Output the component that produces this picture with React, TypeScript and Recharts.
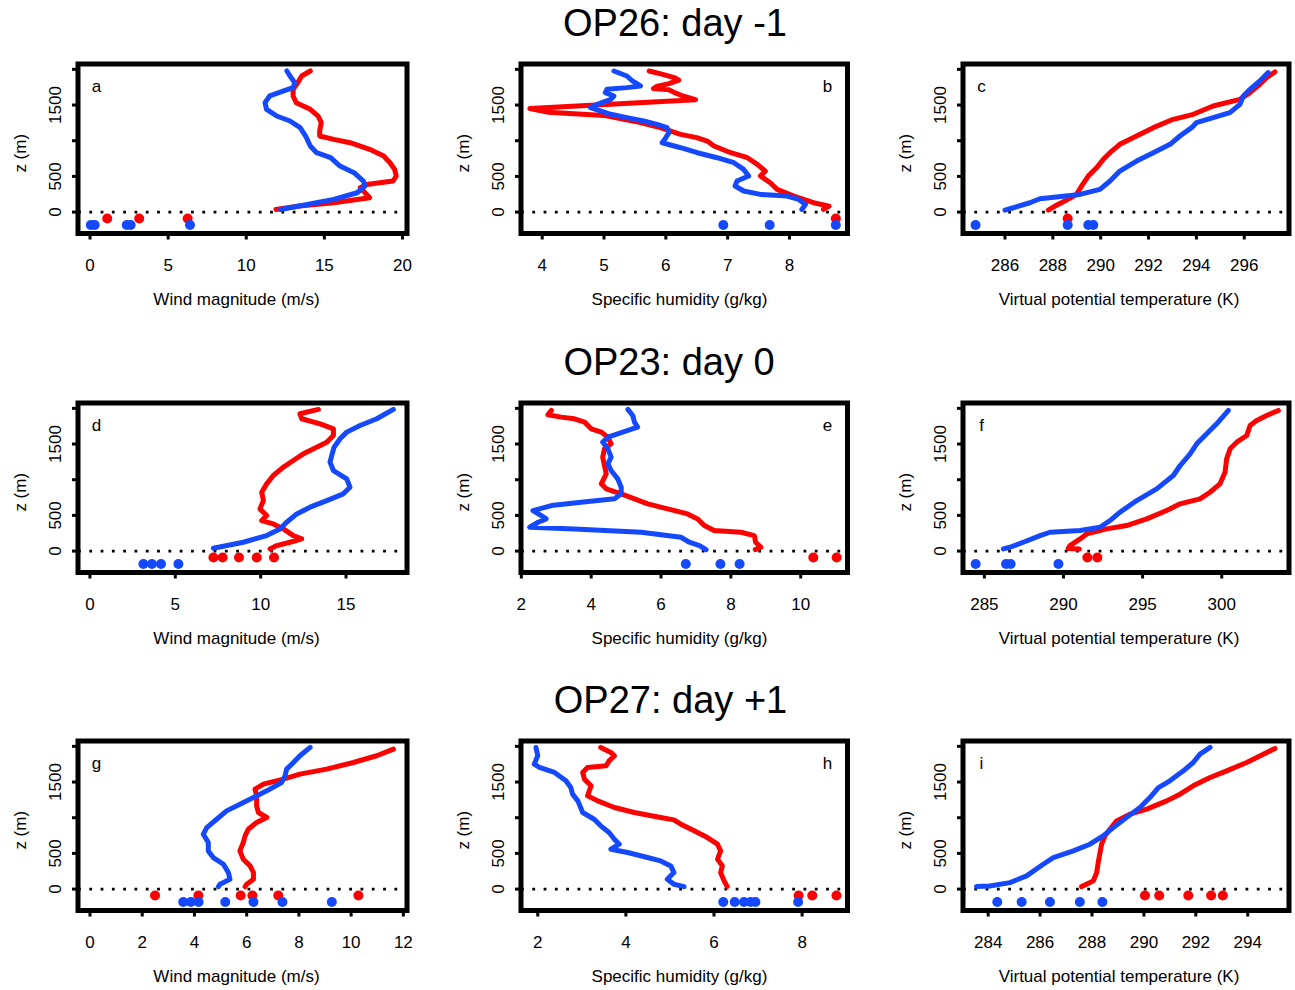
import React from 'react';
import { ScatterChart, Scatter, XAxis, YAxis, ReferenceLine, ReferenceArea } from 'recharts';

type Pair = [number, number]; // [z (m), x value]

const FONT = '"Liberation Sans", Arial, Helvetica, sans-serif';
const RED = '#ff0000';
const BLUE = '#1449ff';

const Z_DOMAIN: [number, number] = [-300, 2075];
const Z_TICKS = [0, 500, 1000, 1500, 2000];
const Z_TICK_LABELS = [0, 500, 1500];
const RED_DOT_Z = -90;
const BLUE_DOT_Z = -180;

const TITLES = ['OP26: day -1', 'OP23: day 0', 'OP27: day +1'];
const X_LABELS = ['Wind magnitude (m/s)', 'Specific humidity (g/kg)', 'Virtual potential temperature (K)'];
const Z_LABEL = 'z (m)';

// ---------- Panel a (wind, OP26) ----------
const aRed: Pair[] = [[1977,14.1],[1907,13.55],[1814,13.3],[1720,13.0],[1627,13.0],[1533,13.2],[1440,14.1],[1346,14.6],[1253,14.8],[1136,14.7],[1066,14.7],[1019,15.6],[972,16.65],[879,17.9],[785,18.8],[692,19.2],[598,19.5],[505,19.6],[435,19.4],[388,17.7],[341,17.3],[295,17.5],[201,17.9],[131,15.6],[84,13.4],[37,11.9]];
const aBlue: Pair[] = [[1977,12.6],[1907,12.8],[1814,13.1],[1744,13.0],[1697,12.4],[1627,11.5],[1533,11.2],[1440,11.3],[1346,11.95],[1276,12.8],[1183,13.45],[1066,13.8],[926,14.1],[832,14.5],[762,15.4],[645,16.0],[552,16.9],[435,17.5],[365,17.6],[271,17.1],[178,15.6],[107,13.9],[37,12.2]];
const aRedDots = [1.1, 3.15, 6.25];
const aBlueDots = [0.05, 0.3, 2.35, 2.6, 6.4];
const aDomain: [number, number] = [-0.77, 20.29];
const aTicks = [0, 5, 10, 15, 20];

// ---------- Panel b (humidity, OP26) ----------
const bRed: Pair[] = [[1977,5.73],[1930,5.95],[1880,6.15],[1850,6.21],[1800,6.05],[1760,5.85],[1730,5.8],[1715,6.05],[1670,6.15],[1620,6.3],[1575,6.48],[1450,3.8],[1400,4.1],[1355,5.0],[1300,5.32],[1253,5.59],[1183,5.91],[1089,6.24],[1043,6.5],[996,6.67],[926,6.78],[832,7.05],[762,7.32],[669,7.48],[575,7.61],[505,7.53],[411,7.69],[318,7.8],[224,8.07],[131,8.39],[84,8.64],[37,8.55]];
const bBlue: Pair[] = [[1977,5.16],[1907,5.37],[1837,5.46],[1767,5.59],[1744,5.37],[1720,5.05],[1674,5.02],[1627,5.16],[1580,5.11],[1510,4.89],[1463,4.78],[1417,4.94],[1370,5.11],[1323,5.37],[1276,5.64],[1230,5.86],[1183,6.02],[1113,6.05],[1043,6.0],[972,5.94],[902,6.24],[832,6.51],[762,6.83],[692,7.1],[598,7.26],[505,7.34],[435,7.15],[365,7.12],[295,7.26],[248,7.53],[224,7.96],[178,8.15],[107,8.26],[37,8.2]];
const bRedDots = [8.75];
const bBlueDots = [6.93, 7.68, 8.75];
const bDomain: [number, number] = [3.657, 8.939];
const bTicks = [4, 5, 6, 7, 8];

// ---------- Panel c (theta_v, OP26) ----------
const cRed: Pair[] = [[1963,297.28],[1884,296.93],[1791,296.65],[1674,296.24],[1580,295.82],[1487,294.7],[1370,293.87],[1300,293.03],[1183,292.2],[1066,291.5],[949,290.8],[832,290.39],[739,290.11],[622,289.83],[505,289.48],[365,289.2],[248,288.99],[154,288.5],[84,288.09],[28,287.81]];
const cBlue: Pair[] = [[1954,297.0],[1837,296.65],[1720,296.24],[1627,295.96],[1510,295.82],[1393,295.4],[1323,294.7],[1253,294.0],[1183,293.8],[1066,293.31],[949,292.9],[832,292.2],[715,291.5],[575,290.8],[435,290.39],[318,289.97],[248,289.13],[187,287.46],[131,287.04],[61,286.35],[28,286.0]];
const cRedDots = [288.62];
const cBlueDots = [284.77, 288.62, 289.48, 289.69];
const cDomain: [number, number] = [284.245, 297.87];
const cTicks = [286, 288, 290, 292, 294, 296];

// ---------- Panel d (wind, OP23) ----------
const dRed: Pair[] = [[1985,13.38],[1924,12.3],[1854,12.4],[1783,13.48],[1713,14.26],[1620,14.26],[1526,13.87],[1456,13.28],[1363,12.5],[1269,11.91],[1176,11.33],[1059,10.74],[942,10.35],[825,10.06],[708,10.16],[591,9.96],[498,10.35],[428,10.06],[381,10.74],[311,11.33],[217,11.91],[171,12.4],[124,11.72],[77,10.94],[30,10.55]];
const dBlue: Pair[] = [[1985,17.77],[1854,16.8],[1760,15.82],[1667,15.04],[1573,14.65],[1456,14.3],[1339,14.16],[1246,14.06],[1129,14.26],[1012,15.04],[895,15.23],[802,14.84],[708,13.87],[615,12.89],[521,12.11],[404,11.52],[311,11.13],[217,10.35],[124,8.98],[40,7.23]];
const dRedDots = [7.23, 7.77, 8.73, 9.77, 10.78];
const dBlueDots = [3.13, 3.63, 4.16, 5.18];
const dDomain: [number, number] = [-0.70, 18.57];
const dTicks = [0, 5, 10, 15];

// ---------- Panel e (humidity, OP23) ----------
const eRed: Pair[] = [[1971,2.86],[1910,2.76],[1877,3.14],[1854,3.52],[1807,3.81],[1713,4.0],[1667,4.29],[1596,4.48],[1503,4.57],[1433,4.38],[1316,4.33],[1199,4.38],[1082,4.43],[942,4.29],[872,4.43],[802,4.86],[732,5.24],[662,5.62],[591,6.19],[521,6.76],[451,7.05],[358,7.24],[288,7.52],[264,8.29],[217,8.67],[124,8.71],[54,8.86],[21,8.7]];
const eBlue: Pair[] = [[1985,5.05],[1900,5.19],[1807,5.24],[1737,5.33],[1690,5.05],[1596,4.48],[1526,4.33],[1433,4.48],[1316,4.57],[1222,4.48],[1129,4.57],[1012,4.76],[895,4.86],[802,4.86],[732,4.67],[685,3.71],[638,2.86],[568,2.33],[498,2.57],[451,2.71],[404,2.48],[334,2.24],[311,3.52],[264,5.43],[194,6.57],[124,6.81],[77,7.1],[21,7.29]];
const eRedDots = [10.36, 11.03];
const eBlueDots = [6.71, 7.7, 8.25];
const eDomain: [number, number] = [1.99, 11.34];
const eTicks = [2, 4, 6, 8, 10];

// ---------- Panel f (theta_v, OP23) ----------
const fRed: Pair[] = [[1971,303.58],[1900,302.84],[1830,302.21],[1760,301.79],[1620,301.58],[1526,300.95],[1433,300.53],[1293,300.31],[1106,300.21],[942,299.89],[825,299.26],[732,298.63],[662,297.37],[568,296.52],[451,295.26],[358,293.99],[311,292.73],[241,291.47],[171,291.05],[77,290.41],[35,290.3],[28,291.0]];
const fBlue: Pair[] = [[1971,300.42],[1783,299.68],[1643,299.05],[1503,298.42],[1363,298.0],[1199,297.37],[1059,296.94],[872,295.89],[708,294.63],[545,293.57],[428,292.94],[334,292.31],[288,291.05],[264,289.15],[217,288.52],[124,287.46],[54,286.62],[30,286.2]];
const fRedDots = [291.51, 292.14];
const fBlueDots = [284.45, 286.37, 286.66, 289.68];
const fDomain: [number, number] = [283.65, 304.25];
const fTicks = [285, 290, 295, 300];

// ---------- Panel g (wind, OP27) ----------
const gRed: Pair[] = [[1961,11.62],[1868,10.98],[1774,10.09],[1681,9.06],[1611,8.04],[1540,7.4],[1470,6.64],[1400,6.32],[1307,6.38],[1166,6.38],[1073,6.45],[1003,6.77],[933,6.38],[839,6.06],[746,5.94],[652,5.87],[535,5.74],[418,5.87],[325,6.13],[231,6.26],[138,6.26],[68,6.0],[35,5.94]];
const gBlue: Pair[] = [[1985,8.43],[1868,8.04],[1774,7.79],[1681,7.53],[1587,7.47],[1494,7.34],[1377,6.77],[1283,6.26],[1190,5.74],[1096,5.23],[979,4.85],[862,4.47],[769,4.34],[652,4.53],[535,4.53],[442,4.72],[348,5.11],[231,5.3],[138,5.36],[68,4.98],[35,4.92]];
const gRedDots = [2.49, 4.15, 5.77, 6.22, 7.21, 10.28];
const gBlueDots = [3.57, 3.86, 4.16, 5.18, 6.26, 7.37, 9.26];
const gDomain: [number, number] = [-0.46, 12.14];
const gTicks = [0, 2, 4, 6, 8, 10, 12];

// ---------- Panel h (humidity, OP27) ----------
const hRed: Pair[] = [[1985,3.43],[1915,3.66],[1868,3.74],[1797,3.62],[1727,3.55],[1704,3.13],[1634,3.02],[1540,3.06],[1447,3.21],[1307,3.13],[1236,3.36],[1143,3.74],[1073,4.19],[1003,4.79],[970,5.09],[909,5.25],[816,5.55],[722,5.85],[629,6.08],[535,6.15],[418,6.08],[325,6.19],[231,6.15],[115,6.23],[35,6.3]];
const hBlue: Pair[] = [[1985,1.96],[1868,2.0],[1750,1.92],[1704,2.04],[1634,2.38],[1517,2.64],[1423,2.75],[1330,2.79],[1236,2.91],[1073,3.02],[979,3.28],[886,3.43],[792,3.62],[699,3.74],[629,3.85],[559,3.66],[512,4.04],[442,4.49],[395,4.79],[325,5.02],[231,5.09],[138,4.94],[68,5.09],[35,5.32]];
const hRedDots = [7.92, 8.23, 8.78];
const hBlueDots = [6.21, 6.47, 6.68, 6.83, 6.94, 7.91];
const hDomain: [number, number] = [1.62, 9.03];
const hTicks = [2, 4, 6, 8];

// ---------- Panel i (theta_v, OP27) ----------
const iRed: Pair[] = [[1971,295.05],[1891,294.6],[1774,293.96],[1657,293.19],[1564,292.55],[1447,291.9],[1330,291.39],[1236,290.88],[1120,290.11],[1049,289.46],[956,288.95],[839,288.69],[746,288.5],[629,288.37],[512,288.31],[372,288.24],[231,288.18],[115,288.05],[68,287.79],[35,287.6]];
const iBlue: Pair[] = [[1985,292.55],[1891,292.16],[1774,291.9],[1657,291.52],[1517,291.0],[1423,290.56],[1283,290.23],[1143,289.85],[1003,289.33],[862,288.82],[746,288.43],[629,287.92],[535,287.28],[442,286.51],[348,286.12],[185,285.48],[91,284.84],[44,284.06],[35,283.55]];
const iRedDots = [290.04, 290.59, 291.71, 292.59, 293.04];
const iBlueDots = [284.35, 285.29, 286.38, 287.53, 288.4];
const iDomain: [number, number] = [283.03, 295.59];
const iTicks = [284, 286, 288, 290, 292, 294];

const panels = [
  { letter: 'a', red: aRed, blue: aBlue, redDots: aRedDots, blueDots: aBlueDots, domain: aDomain, ticks: aTicks },
  { letter: 'b', red: bRed, blue: bBlue, redDots: bRedDots, blueDots: bBlueDots, domain: bDomain, ticks: bTicks },
  { letter: 'c', red: cRed, blue: cBlue, redDots: cRedDots, blueDots: cBlueDots, domain: cDomain, ticks: cTicks },
  { letter: 'd', red: dRed, blue: dBlue, redDots: dRedDots, blueDots: dBlueDots, domain: dDomain, ticks: dTicks },
  { letter: 'e', red: eRed, blue: eBlue, redDots: eRedDots, blueDots: eBlueDots, domain: eDomain, ticks: eTicks },
  { letter: 'f', red: fRed, blue: fBlue, redDots: fRedDots, blueDots: fBlueDots, domain: fDomain, ticks: fTicks },
  { letter: 'g', red: gRed, blue: gBlue, redDots: gRedDots, blueDots: gBlueDots, domain: gDomain, ticks: gTicks },
  { letter: 'h', red: hRed, blue: hBlue, redDots: hRedDots, blueDots: hBlueDots, domain: hDomain, ticks: hTicks },
  { letter: 'i', red: iRed, blue: iBlue, redDots: iRedDots, blueDots: iBlueDots, domain: iDomain, ticks: iTicks },
];

// ---------- layout ----------
const BOX_LEFT = [78, 520.5, 963];
const BOX_W = [329, 326.5, 326];
const BOX_TOP = [63.5, 402.5, 740.5];
const BOX_H = 169.5;
const TITLE_X = [675, 669, 670.5];
const XLABEL_SHIFT = [-6, -4.3, -7];
const ML = 78;
const MT = 20;
const MR = 12;
const XH = 52;
const FS = 17;
const LINE_W = 5;
const DOT_R = 5;

const renderNone = () => <g />;

function Dot(props: any) {
  const { cx, cy, fill } = props;
  if (cx == null || cy == null) return <g />;
  return <circle cx={cx} cy={cy} r={DOT_R} fill={fill} />;
}

function XTick(props: any) {
  const { x, payload, baseY } = props;
  return (
    <text x={x} y={baseY} textAnchor="middle" fontSize={FS} fontFamily={FONT} fill="#000">
      {payload.value}
    </text>
  );
}

function YTick(props: any) {
  const { y, payload, baseX } = props;
  if (!Z_TICK_LABELS.includes(payload.value)) return <g />;
  return (
    <text x={baseX} y={y} transform={`rotate(-90 ${baseX} ${y})`} textAnchor="middle" fontSize={FS} fontFamily={FONT} fill="#000">
      {payload.value}
    </text>
  );
}

function Panel({ p, row, col }: { p: any; row: number; col: number }) {
  const w = BOX_W[col];
  const W = w + ML + MR;
  const H = BOX_H + MT + XH;
  const redLine = p.red.map(([z, x]: Pair) => ({ x, z }));
  const blueLine = p.blue.map(([z, x]: Pair) => ({ x, z }));
  const redPts = p.redDots.map((x: number) => ({ x, z: RED_DOT_Z }));
  const bluePts = p.blueDots.map((x: number) => ({ x, z: BLUE_DOT_Z }));
  return (
    <div style={{ position: 'absolute', left: BOX_LEFT[col] - ML, top: BOX_TOP[row] - MT, width: W, height: H }}>
      <ScatterChart width={W} height={H} margin={{ top: MT, right: MR, bottom: 0, left: 0 }}>
        <XAxis
          type="number"
          dataKey="x"
          domain={p.domain}
          ticks={p.ticks}
          allowDataOverflow
          interval={0}
          axisLine={false}
          tickSize={6}
          tickLine={{ stroke: '#000', strokeWidth: 3 }}
          tick={<XTick baseY={MT + BOX_H + 37.5} />}
          height={XH}
        />
        <YAxis
          type="number"
          dataKey="z"
          domain={Z_DOMAIN}
          ticks={Z_TICKS}
          allowDataOverflow
          interval={0}
          axisLine={false}
          tickSize={6}
          tickLine={{ stroke: '#000', strokeWidth: 3 }}
          tick={<YTick baseX={ML - 17} />}
          width={ML}
        />
        <ReferenceLine y={0} stroke="#000" strokeWidth={2.8} strokeDasharray="2.8 8.5" ifOverflow="visible" />
        <Scatter
          data={redLine}
          fill={RED}
          line={{ stroke: RED, strokeWidth: LINE_W, strokeLinejoin: 'round', strokeLinecap: 'round' }}
          shape={renderNone}
          isAnimationActive={false}
        />
        <Scatter
          data={blueLine}
          fill={BLUE}
          line={{ stroke: BLUE, strokeWidth: LINE_W, strokeLinejoin: 'round', strokeLinecap: 'round' }}
          shape={renderNone}
          isAnimationActive={false}
        />
        <Scatter data={redPts} fill={RED} shape={<Dot />} isAnimationActive={false} />
        <Scatter data={bluePts} fill={BLUE} shape={<Dot />} isAnimationActive={false} />
        <ReferenceArea
          x1={p.domain[0]}
          x2={p.domain[1]}
          y1={Z_DOMAIN[0]}
          y2={Z_DOMAIN[1]}
          fill="none"
          fillOpacity={0}
          stroke="#000"
          strokeWidth={5}
          strokeOpacity={1}
          ifOverflow="visible"
        />
      </ScatterChart>
    </div>
  );
}

export default function App() {
  return (
    <div style={{ position: 'absolute', left: 0, top: 0, width: 1295, height: 990, background: '#fff' }}>
      {panels.map((p, k) => (
        <Panel key={p.letter} p={p} row={Math.floor(k / 3)} col={k % 3} />
      ))}
      <svg width={1295} height={990} style={{ position: 'absolute', left: 0, top: 0, pointerEvents: 'none' }}>
        {TITLES.map((t, r) => (
          <text key={t} x={TITLE_X[r]} y={BOX_TOP[r] - 27.4} textAnchor="middle" fontSize={38} fontFamily={FONT} fill="#000">
            {t}
          </text>
        ))}
        {panels.map((p, k) => {
          const row = Math.floor(k / 3);
          const col = k % 3;
          const left = BOX_LEFT[col];
          const right = left + BOX_W[col];
          const top = BOX_TOP[row];
          const bottom = top + BOX_H;
          const cx = (left + right) / 2;
          const cy = (top + bottom) / 2 + 5;
          const lx = col === 1 ? right - 19.5 : left + 18.5;
          const zx = left - 52;
          return (
            <g key={p.letter}>
              <text x={lx} y={top + 28} textAnchor="middle" fontSize={FS} fontFamily={FONT} fill="#000">
                {p.letter}
              </text>
              <text x={zx} y={cy} transform={`rotate(-90 ${zx} ${cy})`} textAnchor="middle" fontSize={FS} fontFamily={FONT} fill="#000">
                {Z_LABEL}
              </text>
              <text x={cx + XLABEL_SHIFT[col]} y={bottom + 72} textAnchor="middle" fontSize={FS} fontFamily={FONT} fill="#000">
                {X_LABELS[col]}
              </text>
            </g>
          );
        })}
      </svg>
    </div>
  );
}
